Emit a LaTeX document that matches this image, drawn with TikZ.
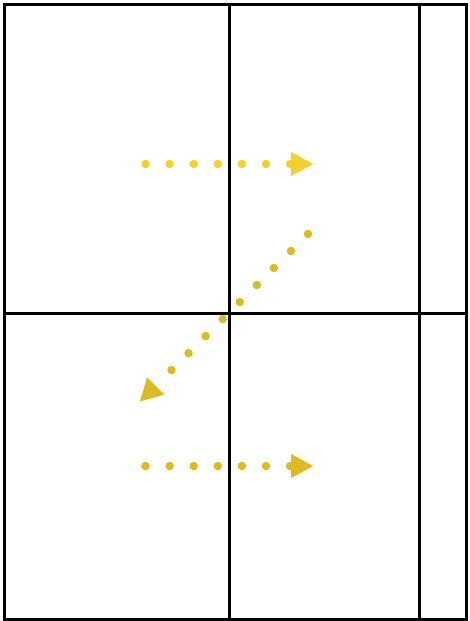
\documentclass[tikz,border=0pt]{standalone}
\usetikzlibrary{arrows.meta}
\definecolor{yelA}{HTML}{F3CF30}
\definecolor{yelB}{HTML}{DDB924}
\tikzset{
  gridline/.style={line width=3pt, black},
  dotarrow/.style={line width=8.5pt, line cap=round, dash pattern=on 0pt off 24.1pt,
    -{Triangle[length=22pt,width=24pt,line width=0.01pt]}}
}
\begin{document}
\begin{tikzpicture}[x=1pt,y=-1pt]
\useasboundingbox (0,0) rectangle (469,621);
% grid
\draw[gridline] (4,4) rectangle (466,619.5);
\draw[gridline] (229,4) -- (229,619.5);
\draw[gridline] (419,4) -- (419,619.5);
\draw[gridline] (4,313) -- (466,313);
% arrow endpoints
\coordinate (a1) at (145.5,164);
\coordinate (b1) at (313,164);
\coordinate (a2) at (308,234);
\coordinate (b2) at (140,401.5);
\coordinate (a3) at (145.5,466);
\coordinate (b3) at (313,466);
% arrows
\draw[dotarrow, yelA] (a1) -- (b1);
\draw[dotarrow, yelB] (a2) -- (b2);
\draw[dotarrow, yelB] (a3) -- (b3);
\end{tikzpicture}
\end{document}
